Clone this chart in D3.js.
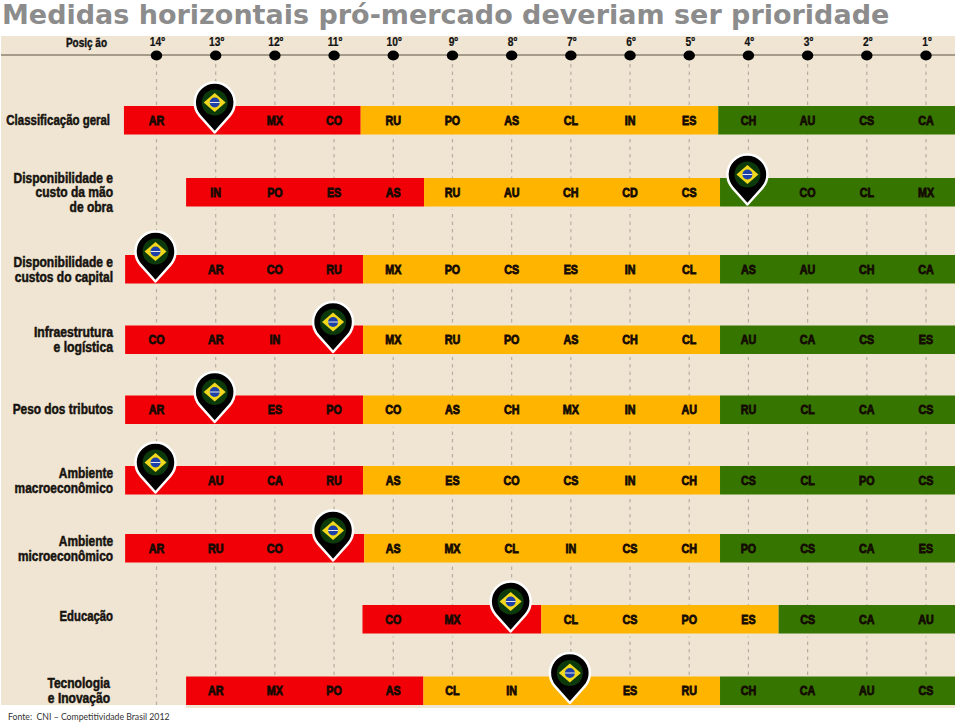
<!DOCTYPE html>
<html>
<head>
<meta charset="utf-8">
<script src="https://cdn.jsdelivr.net/npm/d3@7"></script>
<style>
  body { margin: 0; background: #fff; overflow: hidden; }
  svg { display: block; }
  .narrow { font-family: "Liberation Sans", sans-serif; font-weight: 700; }
  .axis text { font-family: "Liberation Sans", sans-serif; font-size: 12.5px; font-weight: 700; fill: #111; stroke: #111; stroke-width: .2px; }
</style>
</head>
<body>
<div id="chart"></div>
<script>
// Ranking positions, 14th to 1st
const positions = [14, 13, 12, 11, 10, 9, 8, 7, 6, 5, 4, 3, 2, 1];

// Row names, each split in its printed lines
const rowLabels = [
    ["Classificação geral"],
    ["Disponibilidade e", "custo da mão", "de obra"],
    ["Disponibilidade e", "custos do capital"],
    ["Infraestrutura", "e logística"],
    ["Peso dos tributos"],
    ["Ambiente", "macroeconômico"],
    ["Ambiente", "microeconômico"],
    ["Educação"],
    ["Tecnologia", "e Inovação"]
];

// Countries per row, worst to best. BR is drawn as the pin
const rowCountries = [
    ["AR", "BR", "MX", "CO", "RU", "PO", "AS", "CL", "IN", "ES", "CH", "AU", "CS", "CA"],
    ["IN", "PO", "ES", "AS", "RU", "AU", "CH", "CD", "CS", "BR", "CO", "CL", "MX"],
    ["BR", "AR", "CO", "RU", "MX", "PO", "CS", "ES", "IN", "CL", "AS", "AU", "CH", "CA"],
    ["CO", "AR", "IN", "BR", "MX", "RU", "PO", "AS", "CH", "CL", "AU", "CA", "CS", "ES"],
    ["AR", "BR", "ES", "PO", "CO", "AS", "CH", "MX", "IN", "AU", "RU", "CL", "CA", "CS"],
    ["BR", "AU", "CA", "RU", "AS", "ES", "CO", "CS", "IN", "CH", "CS", "CL", "PO", "CS"],
    ["AR", "RU", "CO", "BR", "AS", "MX", "CL", "IN", "CS", "CH", "PO", "CS", "CA", "ES"],
    ["CO", "MX", "BR", "CL", "CS", "PO", "ES", "CS", "CA", "AU"],
    ["AR", "MX", "PO", "AS", "CL", "IN", "BR", "ES", "RU", "CH", "CA", "AU", "CS"]
];

// Where each row's coloured bands start and end, in ranking units
const bandStart  = [14.55, 13.5, 14.53, 14.53, 14.53, 14.53, 14.53, 10.52, 13.5];
const redEnd     = [10.55, 9.48, 10.51, 10.51, 10.51, 10.51, 10.49, 7.5, 9.49];
const yellowEnd  = [4.51, 4.48, 4.48, 4.48, 4.48, 4.48, 4.48, 3.49, 4.48];
const bandFinish = 0.51;

const bandColors = ["#f20007", "#ffb500", "#367600"];

const svg = d3.select("#chart")
    .append("svg")
    .attr("width", 960)
    .attr("height", 722);

// Scales
const xScale = d3.scaleLinear()
    .domain([14, 1])
    .range([156.5, 926]);

const rowIndex = rowLabels.map((d, i) => i);
const yScale = d3.scaleOrdinal()
    .domain(rowIndex)
    .range([106, 178, 255, 325.5, 395.5, 466, 534, 605, 676.5]);
const barHeight = 28.5;

// Row names don't all line up the same
const labelEdge = d3.scaleOrdinal()
    .domain(rowIndex)
    .range([110, 113, 113, 113, 113, 113, 113, 113, 110]);
const labelShift = d3.scaleOrdinal()
    .domain(rowIndex)
    .range([0, 0, 0, 0, -1, 0, 0, -3, 0]);
const labelStretch = d3.scaleOrdinal()
    .domain(rowIndex)
    .range([.79, .83, .83, .84, .82, .82, .82, .78, .83]);

// Title
svg.append("text")
    .attr("x", 2)
    .attr("y", 23.5)
    .style("font-family", "'DejaVu Sans', sans-serif")
    .style("font-weight", "700")
    .style("font-size", "27px")
    .style("fill", "#8c8c8c")
    .text("Medidas horizontais pró-mercado deveriam ser prioridade");

// Beige panel
svg.append("rect")
    .attr("x", 1)
    .attr("y", 36)
    .attr("width", 954)
    .attr("height", 669)
    .attr("fill", "#efe5d2");

// Dashed guides
svg.append("g")
    .selectAll("line")
    .data(positions)
    .enter()
    .append("line")
    .attr("x1", d => xScale(d))
    .attr("x2", d => xScale(d))
    .attr("y1", 64)
    .attr("y2", 705)
    .attr("stroke", "#b5afa3")
    .attr("stroke-width", 1.2)
    .attr("stroke-dasharray", "3.5,4");

// Axis line, dots and position labels
svg.append("line")
    .attr("x1", 1)
    .attr("x2", 955)
    .attr("y1", 55)
    .attr("y2", 55)
    .attr("stroke", "#8b8272")
    .attr("stroke-width", 1.5);

const xAxis = d3.axisTop(xScale)
    .tickValues(positions)
    .tickSize(0)
    .tickPadding(9.5)
    .tickFormat(d => d + "º");

const axisG = svg.append("g")
    .attr("class", "axis")
    .attr("transform", "translate(0,55)")
    .call(xAxis);
axisG.select(".domain").remove();
axisG.selectAll("text")
    .attr("transform", "scale(.82,1)")
    .attr("x", 0.5);
axisG.attr("font-family", null).attr("font-size", null);

svg.append("g")
    .selectAll("ellipse")
    .data(positions)
    .enter()
    .append("ellipse")
    .attr("cx", d => xScale(d))
    .attr("cy", 55.5)
    .attr("rx", 5.7)
    .attr("ry", 5)
    .attr("fill", "#000");

svg.append("text")
    .attr("class", "narrow")
    .attr("transform", "translate(107,47) scale(.8,1)")
    .attr("text-anchor", "end")
    .style("font-size", "12.5px")
    .style("fill", "#111")
    .style("stroke", "#111")
    .style("stroke-width", ".4px")
    .text("Posiç ão");

// One group for each row
const rows = svg.append("g")
    .selectAll("g")
    .data(rowIndex)
    .enter()
    .append("g")
    .attr("transform", d => `translate(0,${yScale(d)})`);

// Clear the guides just under each bar
rows.append("rect")
    .attr("x", d => xScale(bandStart[d]))
    .attr("y", barHeight)
    .attr("width", d => xScale(bandFinish) - xScale(bandStart[d]))
    .attr("height", 3)
    .attr("fill", "#efe5d2");

rows.selectAll(".band")
    .data(d => {
        const cuts = [bandStart[d], redEnd[d], yellowEnd[d], bandFinish];
        return bandColors.map((c, i) => ({ from: cuts[i], to: cuts[i + 1], color: c }));
    })
    .enter()
    .append("rect")
    .attr("class", "band")
    .attr("x", d => xScale(d.from))
    .attr("y", 0)
    .attr("width", d => xScale(d.to) - xScale(d.from))
    .attr("height", barHeight)
    .attr("fill", d => d.color);

// Country codes: the last code of a row always sits on the 1st position
const rowCells = d => rowCountries[d].map((code, i) => ({
    code: code,
    pos: rowCountries[d].length - i
}));

rows.selectAll(".code")
    .data(d => rowCells(d).filter(c => c.code !== "BR"))
    .enter()
    .append("text")
    .attr("class", "code narrow")
    .attr("transform", d => `translate(${xScale(d.pos)},${barHeight / 2 + 4.5}) scale(.86,1)`)
    .attr("text-anchor", "middle")
    .style("font-size", "12.5px")
    .style("fill", "#140a00")
    .style("stroke", "#140a00")
    .style("stroke-width", ".8px")
    .text(d => d.code);

// Row names, right aligned
rows.each(function(d) {
    const lines = rowLabels[d];
    d3.select(this).selectAll(".row-name")
        .data(lines)
        .enter()
        .append("text")
        .attr("class", "row-name narrow")
        .attr("transform", (l, i) => {
            const ly = barHeight / 2 + 5 + labelShift(d) + (i - (lines.length - 1) / 2) * 14.6;
            return `translate(${labelEdge(d)},${ly}) scale(${labelStretch(d)},1)`;
        })
        .attr("text-anchor", "end")
        .style("font-size", "14.5px")
        .style("fill", "#17130f")
        .style("stroke", "#17130f")
        .style("stroke-width", ".5px")
        .text(l => l);
});

// Brazil pin, tip on the bar
const pinRadius = 20;
const pinDrop = 30;
const pinAngle = Math.acos(pinRadius / pinDrop);
const pinPath = d3.path();
pinPath.moveTo(0, 0);
pinPath.arc(0, -pinDrop, pinRadius, Math.PI / 2 + pinAngle, Math.PI / 2 - pinAngle + 2 * Math.PI);
pinPath.closePath();

const pins = rows.selectAll(".pin")
    .data(d => rowCells(d).filter(c => c.code === "BR"))
    .enter()
    .append("g")
    .attr("class", "pin")
    .attr("transform", d => `translate(${xScale(d.pos) - 1},${barHeight - 2})`);

pins.append("path")
    .attr("d", pinPath.toString())
    .attr("fill", "#000")
    .attr("stroke", "#fff")
    .attr("stroke-width", 2.5)
    .attr("stroke-linejoin", "round");

pins.append("circle")
    .attr("cy", -pinDrop)
    .attr("r", 13)
    .attr("fill", "#0d3a0b");

pins.append("path")
    .attr("d", d3.line()([[-11, -pinDrop], [0, -pinDrop - 9.5], [11, -pinDrop], [0, -pinDrop + 9.5]]) + "Z")
    .attr("fill", "#f2d81c");

pins.append("circle")
    .attr("cy", -pinDrop)
    .attr("r", 5)
    .attr("fill", "#1c3fa8");

pins.append("line")
    .attr("x1", -5)
    .attr("x2", 5)
    .attr("y1", -pinDrop)
    .attr("y2", -pinDrop)
    .attr("stroke", "#e8e8e8")
    .attr("stroke-width", 1);

// Source
svg.append("text")
    .attr("transform", "translate(8,720) scale(.87,1)")
    .attr("xml:space", "preserve")
    .style("font-family", "Lato, sans-serif")
    .style("font-size", "10px")
    .style("fill", "#333")
    .text("Fonte:  CNI – Competitividade Brasil 2012");
</script>
</body>
</html>
